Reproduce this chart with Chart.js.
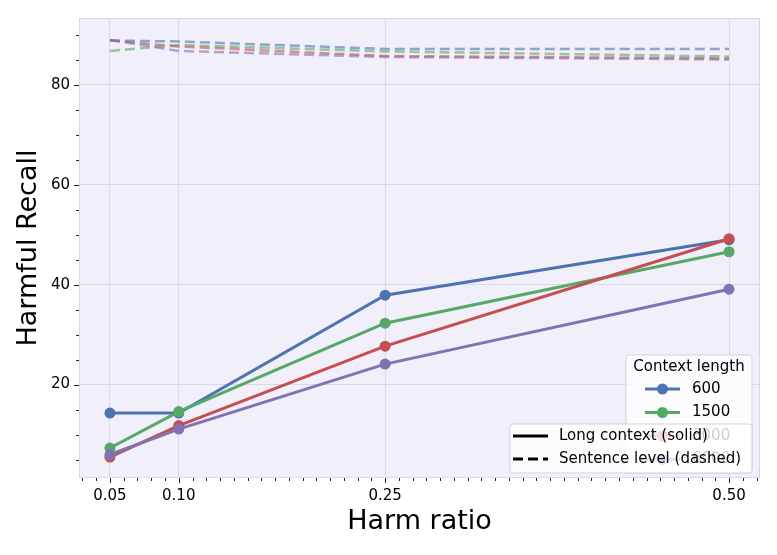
<!DOCTYPE html>
<html>
<head>
<meta charset="utf-8">
<script src="https://cdn.jsdelivr.net/npm/chart.js@4.4.0/dist/chart.umd.min.js"></script>
<style>
  html, body { margin: 0; padding: 0; background: #fff; }
  #wrap { width: 777px; height: 555px; }
</style>
</head>
<body>
<div id="wrap"><canvas id="chart"></canvas></div>
<script>
// Data
const harmRatios = [0.05, 0.10, 0.25, 0.50];
const contextLengths = ['600', '1500', '3000', '6000'];
const seriesColors = ['#4C72B0', '#55A868', '#C44E52', '#8172B2'];

// Long context (solid)
const longCtx600 = [14.3, 14.3, 37.9, 49.0];
const longCtx1500 = [7.3, 14.6, 32.3, 46.6];
const longCtx3000 = [5.5, 11.8, 27.7, 49.2];
const longCtx6000 = [6.0, 11.1, 24.1, 39.1];

// Sentence level (dashed)
const sentence600 = [88.9, 88.7, 87.2, 87.2];
const sentence1500 = [86.8, 88.0, 86.7, 85.7];
const sentence3000 = [88.9, 87.7, 85.8, 85.3];
const sentence6000 = [89.0, 86.8, 85.6, 85.1];

const xTickLabels = [0.05, 0.10, 0.25, 0.50];
const yTickLabels = [20, 40, 60, 80];

const longSeries = [longCtx600, longCtx1500, longCtx3000, longCtx6000];
const sentenceSeries = [sentence600, sentence1500, sentence3000, sentence6000];

const FONT = "'DejaVu Sans', sans-serif";

function hexA(hex, a) {
  const n = parseInt(hex.slice(1), 16);
  return `rgba(${(n >> 16) & 255}, ${(n >> 8) & 255}, ${n & 255}, ${a})`;
}

const toPoints = vals => vals.map((v, i) => ({ x: harmRatios[i], y: v }));

// higher `order` is drawn first, so later series end up on top (like matplotlib)
const datasets = [];
contextLengths.forEach((name, i) => {
  datasets.push({
    label: name + ' sentence',
    data: toPoints(sentenceSeries[i]),
    borderColor: hexA(seriesColors[i], 0.6),
    borderWidth: 2.5,
    borderDash: [10, 5],
    pointRadius: 0,
    fill: false,
    tension: 0,
    order: 20 - i
  });
});
contextLengths.forEach((name, i) => {
  datasets.push({
    label: name,
    data: toPoints(longSeries[i]),
    borderColor: seriesColors[i],
    backgroundColor: seriesColors[i],
    borderWidth: 3,
    pointRadius: 5.5,
    pointBorderWidth: 0,
    fill: false,
    tension: 0,
    order: 10 - i
  });
});

// Plot background, frame and matplotlib-style tick marks
const axesPlugin = {
  id: 'axesDeco',
  beforeDraw(chart) {
    const { ctx, chartArea: a } = chart;
    ctx.save();
    ctx.fillStyle = '#F1EFF9';
    ctx.fillRect(a.left, a.top, a.right - a.left, a.bottom - a.top);
    ctx.restore();
  },
  afterDraw(chart) {
    const { ctx, chartArea: a, scales } = chart;
    ctx.save();
    ctx.strokeStyle = '#D9D5E9';
    ctx.lineWidth = 1;
    ctx.strokeRect(a.left + 0.5, a.top + 0.5, a.right - a.left - 1, a.bottom - a.top - 1);

    ctx.strokeStyle = '#222';
    ctx.lineWidth = 1;
    // x ticks
    for (let k = 3; k <= 52; k++) {
      const v = k / 100;
      const px = Math.round(scales.x.getPixelForValue(v)) + 0.5;
      const major = xTickLabels.some(t => Math.abs(t - v) < 1e-9);
      ctx.beginPath();
      ctx.moveTo(px, a.bottom);
      ctx.lineTo(px, a.bottom + (major ? 5 : 3));
      ctx.stroke();
    }
    // y ticks
    for (let v = 5; v <= 90; v += 5) {
      const py = Math.round(scales.y.getPixelForValue(v)) + 0.5;
      const major = v % 20 === 0;
      ctx.beginPath();
      ctx.moveTo(a.left, py);
      ctx.lineTo(a.left - (major ? 5 : 3), py);
      ctx.stroke();
    }
    ctx.restore();
  }
};

function legendBox(ctx, x, y, w, h) {
  const r = 3;
  ctx.beginPath();
  ctx.moveTo(x + r, y);
  ctx.lineTo(x + w - r, y);
  ctx.quadraticCurveTo(x + w, y, x + w, y + r);
  ctx.lineTo(x + w, y + h - r);
  ctx.quadraticCurveTo(x + w, y + h, x + w - r, y + h);
  ctx.lineTo(x + r, y + h);
  ctx.quadraticCurveTo(x, y + h, x, y + h - r);
  ctx.lineTo(x, y + r);
  ctx.quadraticCurveTo(x, y, x + r, y);
  ctx.closePath();
  ctx.fillStyle = 'rgba(255,255,255,0.8)';
  ctx.fill();
  ctx.strokeStyle = 'rgba(204,204,204,0.8)';
  ctx.lineWidth = 1;
  ctx.stroke();
}

// Two matplotlib-like legends, the second one drawn over the first
const legendsPlugin = {
  id: 'twoLegends',
  afterDraw(chart) {
    const { ctx, chartArea: a } = chart;
    ctx.save();
    ctx.font = `15px ${FONT}`;
    ctx.textBaseline = 'middle';

    // Context length legend
    const bx = a.right - 134, by = a.top + 337;
    legendBox(ctx, bx, by, 126, 118);
    ctx.fillStyle = '#000';
    ctx.textAlign = 'center';
    ctx.fillText('Context length', bx + 63, by + 12);
    ctx.textAlign = 'left';
    contextLengths.forEach((name, i) => {
      const y = by + 34 + i * 23.5;
      ctx.strokeStyle = seriesColors[i];
      ctx.lineWidth = 3;
      ctx.beginPath();
      ctx.moveTo(bx + 19, y);
      ctx.lineTo(bx + 54, y);
      ctx.stroke();
      ctx.fillStyle = seriesColors[i];
      ctx.beginPath();
      ctx.arc(bx + 36.5, y, 5.5, 0, Math.PI * 2);
      ctx.fill();
      ctx.fillStyle = '#000';
      ctx.fillText(name, bx + 66, y);
    });

    // Line style legend
    const cx = a.right - 250, cy = a.top + 406;
    legendBox(ctx, cx, cy, 242, 49);
    ctx.strokeStyle = '#000';
    ctx.lineWidth = 3;
    ctx.beginPath();
    ctx.moveTo(cx + 3, cy + 12);
    ctx.lineTo(cx + 38, cy + 12);
    ctx.stroke();
    ctx.setLineDash([10, 5]);
    ctx.beginPath();
    ctx.moveTo(cx + 3, cy + 35);
    ctx.lineTo(cx + 38, cy + 35);
    ctx.stroke();
    ctx.setLineDash([]);
    ctx.fillStyle = '#000';
    ctx.fillText('Long context (solid)', cx + 49, cy + 12);
    ctx.fillText('Sentence level (dashed)', cx + 49, cy + 35);
    ctx.restore();
  }
};

new Chart(document.getElementById('chart'), {
  type: 'line',
  data: { datasets },
  plugins: [axesPlugin, legendsPlugin],
  options: {
    responsive: true,
    maintainAspectRatio: false,
    animation: false,
    layout: { padding: { top: 16, right: 17, left: 0, bottom: 0 } },
    plugins: {
      legend: { display: false },
      tooltip: { enabled: false }
    },
    scales: {
      x: {
        type: 'linear',
        min: 0.0275,
        max: 0.5225,
        afterBuildTicks(scale) {
          scale.ticks = xTickLabels.map(v => ({ value: v }));
        },
        afterFit(scale) { scale.height = 77; },
        grid: { color: '#DCD8E8', lineWidth: 1, drawTicks: false },
        border: { display: false },
        ticks: {
          padding: 9,
          color: '#000',
          font: { family: FONT, size: 15 },
          callback: v => Number(v).toFixed(2)
        },
        title: {
          display: true,
          text: 'Harm ratio',
          color: '#000',
          font: { family: FONT, size: 27 },
          padding: { top: 0, bottom: 17 }
        }
      },
      y: {
        min: 1.3,
        max: 93.4,
        afterBuildTicks(scale) {
          scale.ticks = yTickLabels.map(v => ({ value: v }));
        },
        afterFit(scale) { scale.width = 79; },
        grid: { color: '#DCD8E8', lineWidth: 1, drawTicks: false },
        border: { display: false },
        ticks: {
          padding: 9,
          color: '#000',
          font: { family: FONT, size: 15 }
        },
        title: {
          display: true,
          text: 'Harmful Recall',
          color: '#000',
          font: { family: FONT, size: 27 },
          padding: { top: 13, bottom: 0 }
        }
      }
    }
  }
});
</script>
</body>
</html>
